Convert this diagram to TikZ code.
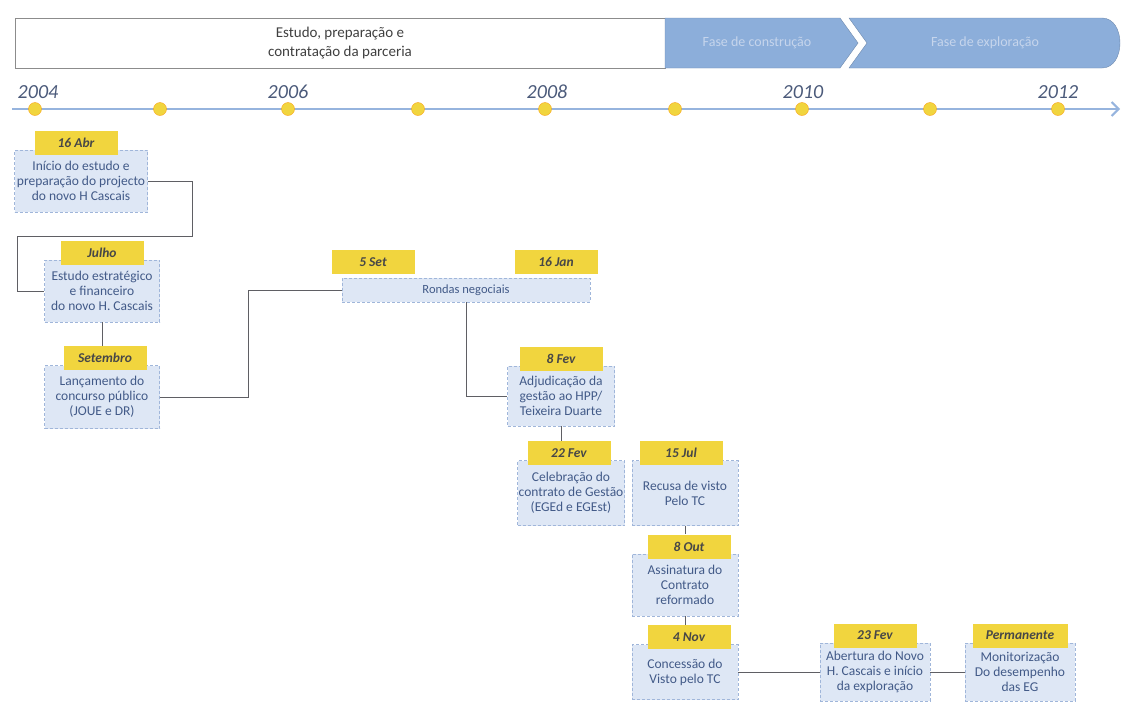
\documentclass[tikz,border=0pt]{standalone}
\usepackage{fontspec}
\setmainfont{Carlito}
\usetikzlibrary{arrows.meta,positioning,calc}
\definecolor{dateYellow}{RGB}{241,213,62}
\definecolor{bodyBlue}{RGB}{222,231,245}
\definecolor{edgeBlue}{RGB}{160,182,218}
\definecolor{textBlue}{RGB}{66,90,136}
\definecolor{lineGray}{RGB}{95,95,100}
\definecolor{phaseBlue}{RGB}{140,174,218}
\definecolor{phaseText}{RGB}{198,213,236}
\definecolor{axisBlue}{RGB}{150,180,222}
\definecolor{yearGray}{RGB}{75,90,122}
\tikzset{
  evdate/.style={fill=dateYellow, minimum width=83pt, minimum height=24pt, inner sep=0pt, font=\fontsize{13.5}{15}\selectfont\bfseries\itshape, text=black!72},
  evbody/.style={draw=edgeBlue, densely dashed, fill=bodyBlue, align=center, inner sep=1pt, font=\fontsize{13.5}{15}\selectfont, text=textBlue},
  link/.style={draw=lineGray, thin},
  axis/.style={-{Straight Barb[length=7pt]}, draw=axisBlue, line width=2pt},
  yeardot/.style={circle, fill=dateYellow, draw=orange!60!dateYellow, minimum size=13pt, inner sep=0pt},
  yearlbl/.style={font=\fontsize{20}{22}\selectfont\itshape, text=yearGray},
  phase/.style={fill=phaseBlue, draw=phaseBlue!80!black},
  phasetxt/.style={font=\fontsize{14}{16}\selectfont, text=phaseText}
}

\begin{document}
\begin{tikzpicture}[x=1pt, y=-1pt]
  \useasboundingbox (0,0) rectangle (1124,702);

  % phases
  \node[draw=black!45, minimum width=650pt, minimum height=50pt, align=center,
        font=\fontsize{15}{19}\selectfont, text=black!75] (study) at (340,43)
        {Estudo, preparação e\\contratação da parceria};
  \path[phase] (665,18) -- (840,18) -- (858,43) -- (840,68) -- (665,68) -- cycle;
  \path[phase] (849,18) -- (1102,18) .. controls (1126,18) and (1126,68) .. (1102,68)
    -- (849,68) -- (867,43) -- cycle;
  \node[phasetxt] (build) at (757,43) {Fase de construção};
  \node[phasetxt] (run) at (985,43) {Fase de exploração};

  % timeline
  \draw[axis] (12,109) -- (1120,109);
  \foreach \x [count=\i] in {35,160,288,418,545,675,802,930,1058}
    \node[yeardot] (t\i) at (\x,109) {};
  \foreach \yr/\x in {2004/38,2006/288,2008/547,2010/803,2012/1058}
    \node[yearlbl] (y\yr) at (\x,92) {\yr};

  % events
  \node[evbody, minimum width=133pt, minimum height=62pt] (b1) at (81,181)
    {Início do estudo e\\preparação do projecto\\do novo H Cascais};
  \node[evdate, above=-5pt of b1, xshift=-5pt] (d1) {16 Abr};
  \node[evbody, minimum width=115pt, minimum height=62pt] (b2) at (102,291)
    {Estudo estratégico\\e financeiro\\do novo H. Cascais};
  \node[evdate, above=-5pt of b2] (d2) {Julho};
  \node[evbody, minimum width=115pt, minimum height=63pt] (b3) at (102,397)
    {Lançamento do\\concurso público\\(JOUE e DR)};
  \node[evdate, above=-5pt of b3, xshift=3pt] (d3) {Setembro};

  \node[evbody, minimum width=248pt, minimum height=24pt, font=\fontsize{12.5}{14}\selectfont] (rn) at (466,290) {Rondas negociais};
  \node[evdate] (d4) at (373,262) {5 Set};
  \node[evdate] (d5) at (556,262) {16 Jan};

  \node[evbody, minimum width=107pt, minimum height=60pt] (b5) at (561,396)
    {Adjudicação da\\gestão ao HPP/\\Teixeira Duarte};
  \node[evdate, above=-5pt of b5] (d6) {8 Fev};
  \node[evbody, minimum width=107pt, minimum height=65pt] (b6) at (571,493)
    {Celebração do\\contrato de Gestão\\(EGEd e EGEst)};
  \node[evdate, above=-5pt of b6, xshift=-2pt] (d7) {22 Fev};
  \node[evbody, minimum width=106pt, minimum height=65pt] (b7) at (685,493)
    {Recusa de visto\\Pelo TC};
  \node[evdate, above=-5pt of b7, xshift=-4pt] (d8) {15 Jul};
  \node[evbody, minimum width=106pt, minimum height=62pt] (b8) at (685,585)
    {Assinatura do\\Contrato\\reformado};
  \node[evdate, above=-5pt of b8, xshift=4pt] (d9) {8 Out};
  \node[evbody, minimum width=106pt, minimum height=55pt] (b9) at (685,672)
    {Concessão do\\Visto pelo TC};
  \node[evdate, above=-5pt of b9, xshift=4pt] (d10) {4 Nov};
  \node[evbody, minimum width=110pt, minimum height=58pt] (b10) at (875,672)
    {Abertura do Novo\\H. Cascais e início\\da exploração};
  \node[evdate, above=-5pt of b10] (d11) {23 Fev};
  \node[evbody, minimum width=110pt, minimum height=58pt] (b11) at (1020,672)
    {Monitorização\\Do desempenho\\das EG};
  \node[evdate, above=-5pt of b11, minimum width=95pt] (d12) {Permanente};

  % connectors
  \coordinate (k1) at (192,236);
  \coordinate (k2) at (17,236);
  \coordinate (k3) at (248,290);
  \draw[link] (b1.east) -| (k1) -- (k2) |- (b2.west);
  \draw[link] (b2.south) -- (d3.north -| b2.south);
  \draw[link] (b3.east) -| (k3) -- (rn.west);
  \draw[link] (rn.south) |- (b5.west);
  \draw[link] (b5.south) -- (d7.north -| b5.south);
  \draw[link] (b7.south) -- (d9.north -| b7.south);
  \draw[link] (b8.south) -- (d10.north -| b8.south);
  \draw[link] (b9.east) -- (b10.west);
  \draw[link] (b10.east) -- (b11.west);
\end{tikzpicture}
\end{document}
